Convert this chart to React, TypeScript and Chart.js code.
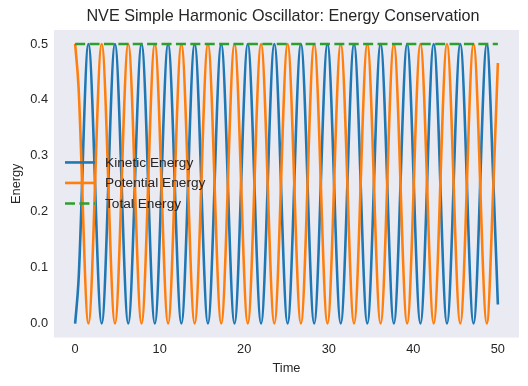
import React, { useEffect, useRef } from "react";
import { Chart, registerables } from "chart.js";

Chart.register(...registerables);

const time = [0, 0.4, 1.571, 3.142, 4.712, 6.283, 7.854, 9.425, 10.996, 12.566, 14.137, 15.708, 17.279, 18.85, 20.42, 21.991, 23.562, 25.133, 26.704, 28.274, 29.845, 31.416, 32.987, 34.558, 36.128, 37.699, 39.27, 40.841, 42.412, 43.982, 45.553, 47.124, 48.695, 49.5, 50];
const kinetic = [0, 0.076, 0.5, 0, 0.5, 0, 0.5, 0, 0.5, 0, 0.5, 0, 0.5, 0, 0.5, 0, 0.5, 0, 0.5, 0, 0.5, 0, 0.5, 0, 0.5, 0, 0.5, 0, 0.5, 0, 0.5, 0, 0.5, 0.24, 0.034];
const potential = [0.5, 0.424, 0, 0.5, 0, 0.5, 0, 0.5, 0, 0.5, 0, 0.5, 0, 0.5, 0, 0.5, 0, 0.5, 0, 0.5, 0, 0.5, 0, 0.5, 0, 0.5, 0, 0.5, 0, 0.5, 0, 0.5, 0, 0.26, 0.466];
const totalTime = [0, 50];
const totalEnergy = [0.5, 0.5];

const xTicks = [0, 10, 20, 30, 40, 50];
const yTicks = [0, 0.1, 0.2, 0.3, 0.4, 0.5];

const titleText = "NVE Simple Harmonic Oscillator: Energy Conservation";
const seriesLabels = ["Kinetic Energy", "Potential Energy", "Total Energy"];
const colors = ["#1f77b4", "#ff7f0e", "#2ca02c"];
const TEXT = "#262626";
const FONT = "'Liberation Sans', Arial, sans-serif";
const LW = 2.6;
const DASH = [10, 4.4];

const bgPlugin = {
  id: "bg",
  beforeDraw(chart: any) {
    const { ctx, chartArea: a, width, height } = chart;
    ctx.save();
    ctx.fillStyle = "#ffffff";
    ctx.fillRect(0, 0, width, height);
    ctx.fillStyle = "#EAEAF2";
    ctx.fillRect(a.left, a.top, a.right - a.left, a.bottom - a.top);
    ctx.restore();
  },
};

const overlayPlugin = {
  id: "overlay",
  afterDraw(chart: any) {
    const { ctx, chartArea: a } = chart;
    ctx.save();
    // title
    ctx.fillStyle = TEXT;
    ctx.font = `16.2px ${FONT}`;
    ctx.textAlign = "center";
    ctx.textBaseline = "middle";
    ctx.fillText(titleText, (a.left + a.right) / 2 - 3.5, 16.6);
    // legend
    const midY = (a.top + a.bottom) / 2;
    seriesLabels.forEach((label, i) => {
      const y = midY + (i - 1) * 20.5 - 0.8;
      ctx.beginPath();
      ctx.strokeStyle = colors[i];
      ctx.lineWidth = LW;
      ctx.setLineDash(i === 2 ? DASH : []);
      ctx.moveTo(a.left + 11, y);
      ctx.lineTo(a.left + 41, y);
      ctx.stroke();
      ctx.setLineDash([]);
      ctx.fillStyle = TEXT;
      ctx.font = `13.7px ${FONT}`;
      ctx.textBaseline = "middle";
      ctx.textAlign = "left";
      ctx.fillText(label, a.left + 51, y + 0.5);
    });
    ctx.restore();
  },
};

const toPoints = (xs: number[], ys: number[]) => xs.map((x, i) => ({ x, y: ys[i] }));

export default function App() {
  const ref = useRef<HTMLCanvasElement>(null);
  useEffect(() => {
    if (!ref.current) return;
    const chart = new Chart(ref.current, {
      type: "line",
      data: {
        datasets: [
          {
            label: seriesLabels[0],
            data: toPoints(time, kinetic),
            borderColor: colors[0],
            borderWidth: LW,
            pointRadius: 0,
            cubicInterpolationMode: "monotone",
            borderJoinStyle: "round",
            fill: false,
            order: 2,
          },
          {
            label: seriesLabels[1],
            data: toPoints(time, potential),
            borderColor: colors[1],
            borderWidth: LW,
            pointRadius: 0,
            cubicInterpolationMode: "monotone",
            borderJoinStyle: "round",
            fill: false,
            order: 1,
          },
          {
            label: seriesLabels[2],
            data: toPoints(totalTime, totalEnergy),
            borderColor: colors[2],
            borderWidth: LW,
            borderDash: DASH,
            pointRadius: 0,
            fill: false,
            order: 0,
          },
        ],
      } as any,
      options: {
        animation: false,
        responsive: false,
        devicePixelRatio: 1,
        layout: { padding: { left: 0, right: 9, top: 30, bottom: 0 } },
        plugins: {
          legend: { display: false },
          tooltip: { enabled: false },
          title: { display: false },
        },
        scales: {
          x: {
            type: "linear",
            min: -2.5,
            max: 52.5,
            grid: { display: false, drawTicks: false },
            border: { display: false },
            afterBuildTicks: (s: any) => {
              s.ticks = xTicks.map((v) => ({ value: v }));
            },
            afterFit: (s: any) => {
              s.height = 48.5;
            },
            ticks: {
              color: TEXT,
              font: { family: FONT, size: 12.8 },
              padding: 4,
              maxRotation: 0,
              callback: (v: any) => String(v),
            },
            title: {
              display: true,
              text: "Time",
              color: TEXT,
              font: { family: FONT, size: 12.8 },
              padding: { top: 0, bottom: 10.3 },
            },
          },
          y: {
            type: "linear",
            min: -0.025,
            max: 0.525,
            grid: { display: false, drawTicks: false },
            border: { display: false },
            afterBuildTicks: (s: any) => {
              s.ticks = yTicks.map((v) => ({ value: v }));
            },
            afterFit: (s: any) => {
              s.width = 54;
            },
            ticks: {
              color: TEXT,
              font: { family: FONT, size: 12.8 },
              padding: 6,
              callback: (v: any) => Number(v).toFixed(1),
            },
            title: {
              display: true,
              text: "Energy",
              color: TEXT,
              font: { family: FONT, size: 12.8 },
              padding: { top: 8.6, bottom: 0 },
            },
          },
        },
      } as any,
      plugins: [bgPlugin, overlayPlugin],
    });
    return () => chart.destroy();
  }, []);
  return (
    <div style={{ position: "fixed", left: 0, top: 0, width: 528, height: 386 }}>
      <canvas ref={ref} width={528} height={386} />
    </div>
  );
}
